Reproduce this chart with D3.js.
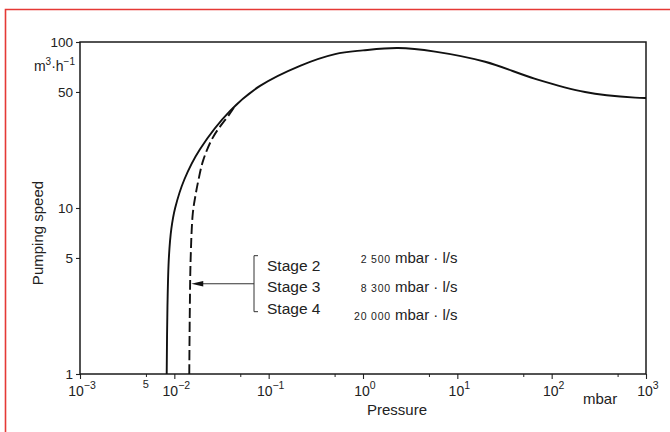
<!DOCTYPE html>
<html>
<head>
<meta charset="utf-8">
<script src="https://cdn.jsdelivr.net/npm/d3@7"></script>
<style>
  body { margin: 0; background: #fff; }
  svg { display: block; font-family: "Liberation Sans", Arial, Helvetica, sans-serif; }
</style>
</head>
<body>
<div id="chart"></div>
<script>
// pressure (mbar) and pumping speed (m3/h)
const solidPressure = [0.0083, 0.00845, 0.00875, 0.0093, 0.0102, 0.0128, 0.0187, 0.039, 0.081, 0.215, 0.506, 1.0, 2.36, 5.8, 19.7, 67, 226, 767, 1000];
const solidSpeed    = [1, 2.5, 5, 7.5, 10, 14.9, 22.6, 38.5, 54.4, 71.9, 84.6, 89, 92, 87.5, 76, 60, 50, 46.2, 46];
const dashPressure  = [0.0144, 0.0146, 0.0149, 0.0157, 0.0168, 0.018, 0.0203, 0.0259, 0.039, 0.043];
const dashSpeed     = [1, 2.5, 5, 9.3, 12, 14.7, 19.5, 26.9, 37.2, 40.5];

const xMajor = [1e-3, 1e-2, 1e-1, 1, 10, 100, 1000];
const xExp = ["\u22123", "\u22122", "\u22121", "0", "1", "2", "3"];
const xMinor = [5e-3, 5e-2, 5e-1, 5, 50, 500];
const yTicks = [1, 5, 10, 50, 100];

const stages = ["Stage 2", "Stage 3", "Stage 4"];
const throughputs = ["2 500", "8 300", "20 000"];
const arrowSpeed = 3.5;

const width = 670, height = 432;
const svg = d3.select("#chart").append("svg")
    .attr("width", width)
    .attr("height", height);

// red page frame (only top and left edges are visible)
svg.append("path")
    .attr("d", "M5.5,432 L5.5,9.5 L670,9.5")
    .attr("fill", "none")
    .attr("stroke", "#e53935")
    .attr("stroke-width", 1.6);

const x = d3.scaleLog().domain([1e-3, 1e3]).range([80, 646]);
const y = d3.scaleLog().domain([1, 100]).range([374, 42]);

// axes - tick marks only, labels drawn by hand because of superscripts
svg.append("g")
    .attr("transform", `translate(0,${y(1)})`)
    .call(d3.axisBottom(x).tickValues(xMajor).tickSize(5).tickFormat(""))
    .call(g => g.select(".domain").remove())
    .call(g => g.selectAll("line").attr("stroke", "#222").attr("stroke-width", 1.1));

svg.append("g")
    .attr("transform", `translate(0,${y(1)})`)
    .call(d3.axisBottom(x).tickValues(xMinor).tickSize(3).tickFormat(""))
    .call(g => g.select(".domain").remove())
    .call(g => g.selectAll("line").attr("stroke", "#222").attr("stroke-width", 1));

svg.append("g")
    .attr("transform", `translate(${x(1e-3)},0)`)
    .call(d3.axisLeft(y).tickValues(yTicks).tickSize(4).tickFormat(""))
    .call(g => g.select(".domain").remove())
    .call(g => g.selectAll("line").attr("stroke", "#222").attr("stroke-width", 1.1));

// plot frame
svg.append("rect")
    .attr("x", x(1e-3))
    .attr("y", y(100))
    .attr("width", x(1e3) - x(1e-3))
    .attr("height", y(1) - y(100))
    .attr("fill", "none")
    .attr("stroke", "#1a1a1a")
    .attr("stroke-width", 1.5);

// y tick labels
svg.append("g")
    .selectAll("text")
    .data(yTicks)
    .join("text")
    .attr("x", x(1e-3) - 7)
    .attr("y", d => y(d))
    .attr("dy", "0.36em")
    .attr("text-anchor", "end")
    .style("font-size", "13.5px")
    .attr("fill", "#222")
    .text(d => d);

// x tick labels 10^n
const xl = svg.append("g")
    .selectAll("text")
    .data(xMajor)
    .join("text")
    .attr("x", d => x(d) + 2)
    .attr("y", 396)
    .attr("text-anchor", "middle")
    .attr("fill", "#222")
    .style("font-size", "14px");
xl.append("tspan").text("10");
xl.append("tspan")
    .attr("dy", -7)
    .style("font-size", "10.5px")
    .text((d, i) => xExp[i]);

svg.append("text")
    .attr("x", x(5e-3))
    .attr("y", 388)
    .attr("text-anchor", "middle")
    .attr("fill", "#222")
    .style("font-size", "11px")
    .text("5");

// axis titles and units
svg.append("text")
    .attr("x", 397)
    .attr("y", 415)
    .attr("text-anchor", "middle")
    .attr("fill", "#222")
    .style("font-size", "15px")
    .text("Pressure");

svg.append("text")
    .attr("x", 583)
    .attr("y", 404)
    .attr("fill", "#222")
    .style("font-size", "15px")
    .text("mbar");

svg.append("text")
    .attr("transform", "translate(43,233) rotate(-90)")
    .attr("text-anchor", "middle")
    .attr("fill", "#222")
    .style("font-size", "15px")
    .text("Pumping speed");

const unit = svg.append("text")
    .attr("x", 75)
    .attr("y", 71)
    .attr("text-anchor", "end")
    .attr("fill", "#222")
    .style("font-size", "14px");
unit.append("tspan").text("m");
unit.append("tspan").attr("dy", -6).style("font-size", "10px").text("3");
unit.append("tspan").attr("dy", 6).text("\u00b7h");
unit.append("tspan").attr("dy", -6).style("font-size", "10px").text("\u22121");

// curves
const line = d3.line()
    .x(d => x(d[0]))
    .y(d => y(d[1]))
    .curve(d3.curveCatmullRom.alpha(0.5));

svg.append("path")
    .datum(d3.zip(solidPressure, solidSpeed))
    .attr("d", line)
    .attr("fill", "none")
    .attr("stroke", "#111")
    .attr("stroke-width", 1.9);

svg.append("path")
    .datum(d3.zip(dashPressure, dashSpeed))
    .attr("d", line)
    .attr("fill", "none")
    .attr("stroke", "#111")
    .attr("stroke-width", 1.9)
    .attr("stroke-dasharray", "10,4");

// bracket and arrow pointing at the dashed curve
const tipX = x(dashPressure[0]) + 2;
const ay = y(arrowSpeed);
const bx = 254;
svg.append("path")
    .attr("d", `M${bx + 4},${ay - 28} H${bx} V${ay + 28} H${bx + 4}`)
    .attr("fill", "none")
    .attr("stroke", "#333")
    .attr("stroke-width", 1);
svg.append("line")
    .attr("x1", bx).attr("x2", tipX + 10)
    .attr("y1", ay).attr("y2", ay)
    .attr("stroke", "#333")
    .attr("stroke-width", 1.1);
svg.append("path")
    .attr("d", `M${tipX},${ay} L${tipX + 12},${ay - 2.8} L${tipX + 12},${ay + 2.8} Z`)
    .attr("fill", "#111");

svg.append("g")
    .selectAll("text")
    .data(stages)
    .join("text")
    .attr("x", 267)
    .attr("y", (d, i) => 270.5 + i * 21.8)
    .attr("fill", "#222")
    .style("font-size", "15.5px")
    .text(d => d);

svg.append("g")
    .selectAll("text")
    .data(throughputs)
    .join("text")
    .attr("x", 391)
    .attr("y", (d, i) => 262.7 + i * 28.8)
    .attr("text-anchor", "end")
    .attr("fill", "#222")
    .style("font-size", "10.5px")
    .style("letter-spacing", "0.8px")
    .text(d => d);

svg.append("g")
    .selectAll("text")
    .data(throughputs)
    .join("text")
    .attr("x", 395)
    .attr("y", (d, i) => 262.7 + i * 28.8)
    .attr("fill", "#222")
    .style("font-size", "15px")
    .text("mbar \u00b7 l/s");
</script>
</body>
</html>
